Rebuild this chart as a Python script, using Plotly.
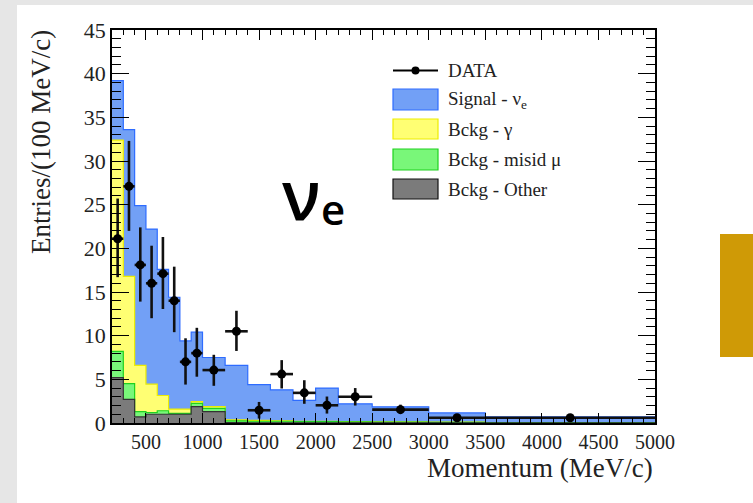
import numpy as np
import plotly.graph_objects as go

# ---------------- data ----------------
edges = [200, 300, 400, 500, 600, 700, 800, 900, 1000, 1200, 1400, 1600,
         1800, 2000, 2200, 2500, 3000, 3500, 5000]
signal = [6.8, 16.8, 18.3, 17.75, 14.45, 12.8, 7.8, 7.96, 5.63, 6.25, 4.1,
          3.55, 2.4, 3.8, 2.05, 1.73, 1.05, 0.65]
gamma = [24.2, 12.3, 5.3, 3.25, 1.75, 0.5, 0.5, 0.19, 0.19, 0.1, 0.1, 0.05,
         0.05, 0.05, 0.03, 0.02, 0.02, 0.01]
misid = [3.0, 1.8, 0.6, 0.2, 0.4, 0.1, 0.1, 0.38, 0.38, 0.2, 0.17, 0.17,
         0.13, 0.13, 0.1, 0.08, 0.07, 0.03]
other = [5.2, 2.7, 0.7, 1.0, 1.0, 1.0, 1.0, 1.87, 1.3, 0.05, 0.03, 0.03,
         0.02, 0.02, 0.02, 0.02, 0.01, 0.01]
data_y = [21.1, 27.1, 18.1, 16.0, 17.1, 14.0, 7.0, 8.0, 6.06, 10.5, 1.46,
          5.6, 3.45, 2.03, 3.0, 1.53, 0.6, 0.6]
data_err_up = [4.6, 5.2, 4.3, 4.3, 4.2, 3.9, 2.7, 2.9, 1.75, 2.35, 0.95,
               1.6, 1.45, 1.0, 1.0, 0.57, 0.3, 0.2]
data_err_dn = [4.4, 5.1, 4.2, 4.0, 4.05, 3.6, 2.6, 2.7, 1.8, 2.25, 0.95,
               1.65, 1.25, 0.95, 1.0, 0.45, 0.3, 0.2]
x_ticks = [500, 1000, 1500, 2000, 2500, 3000, 3500, 4000, 4500, 5000]
y_ticks = [0, 5, 10, 15, 20, 25, 30, 35, 40, 45]

# ---------------- derived ----------------
e = np.array(edges, dtype=float)
centers = (e[:-1] + e[1:]) / 2
halfw = (e[1:] - e[:-1]) / 2
c_other = np.array(other)
c_misid = c_other + np.array(misid)
c_gamma = c_misid + np.array(gamma)
c_total = c_gamma + np.array(signal)

W, H = 753, 503
L, R, T, B = 112, 98, 30, 80
PW, PH = W - L - R, H - T - B


def px(xp):
    return (xp - L) / PW


def py(yp):
    return (H - B - yp) / PH


BLUE_F, BLUE_L = "#72a0f6", "#2e6cff"
YEL_F, YEL_L = "#ffff73", "#eded00"
GRN_F, GRN_L = "#79f779", "#1fd21f"
GRY_F, GRY_L = "#7b7b7b", "#333333"

fig = go.Figure()


def step(vals, fillc, linec):
    fig.add_trace(go.Scatter(
        x=list(e), y=list(vals) + [vals[-1]], mode="lines",
        line=dict(shape="hv", color=linec, width=1.2),
        fill="tozeroy", fillcolor=fillc, showlegend=False, hoverinfo="skip"))


step(c_total, BLUE_F, BLUE_L)
step(c_gamma, YEL_F, YEL_L)
step(c_misid, GRN_F, GRN_L)
step(c_other, GRY_F, GRY_L)

fig.add_trace(go.Scatter(
    x=centers, y=data_y, mode="markers",
    marker=dict(color="black", size=9),
    error_y=dict(type="data", array=data_err_up, arrayminus=data_err_dn,
                 symmetric=False, thickness=2.6, width=0, color="#111"),
    error_x=dict(type="data", array=halfw, thickness=2.6, width=0,
                 color="#111"),
    showlegend=False))

serif = "Liberation Serif"
axis_common = dict(showline=True, linecolor="black", linewidth=1.5,
                   mirror="allticks", ticks="inside", tickcolor="black",
                   tickwidth=1, showgrid=False, zeroline=False)

fig.update_xaxes(range=[200, 5000], tickvals=x_ticks, ticklen=10,
                 tickfont=dict(family=serif, size=20, color="#222"),
                 minor=dict(dtick=100, tick0=0, ticklen=5, ticks="inside",
                            tickcolor="black", tickwidth=1, showgrid=False),
                 **axis_common)
fig.update_yaxes(range=[0, 45], tickvals=y_ticks, ticklen=17,
                 tickfont=dict(family=serif, size=22, color="#222"),
                 minor=dict(dtick=1, tick0=0, ticklen=9, ticks="inside",
                            tickcolor="black", tickwidth=1, showgrid=False),
                 **axis_common)

shapes = []
# slide background panel and golden box
shapes.append(dict(type="rect", xref="paper", yref="paper", layer="below",
                   x0=px(17), x1=px(W + 5), y0=py(5), y1=py(H + 5),
                   fillcolor="white", line=dict(width=0)))
shapes.append(dict(type="rect", xref="paper", yref="paper", layer="above",
                   x0=px(720), x1=px(W + 5), y0=py(234), y1=py(357),
                   fillcolor="#cf9a06", line=dict(width=0)))

# manual legend
lx0, lx1 = 393, 438
shapes.append(dict(type="line", xref="paper", yref="paper",
                   x0=px(lx0), x1=px(lx1), y0=py(70.5), y1=py(70.5),
                   line=dict(color="black", width=2)))
shapes.append(dict(type="circle", xref="paper", yref="paper",
                   x0=px(415.5 - 4), x1=px(415.5 + 4),
                   y0=py(70.5 - 4), y1=py(70.5 + 4),
                   fillcolor="black", line=dict(color="black", width=0)))
boxes = [(89, 110, BLUE_F, BLUE_L), (119, 139, YEL_F, YEL_L),
         (149, 170, GRN_F, GRN_L), (179, 199, GRY_F, "#111111")]
for y0, y1, fc, lc in boxes:
    shapes.append(dict(type="rect", xref="paper", yref="paper",
                       x0=px(lx0), x1=px(lx1), y0=py(y1), y1=py(y0),
                       fillcolor=fc, line=dict(color=lc, width=1.2)))

labels = ["DATA", "Signal - ν<sub>e</sub>", "Bckg - γ", "Bckg - misid μ",
          "Bckg - Other"]
ycent = [70.5, 99.5, 129, 159.5, 189]
ann = []
for t, yc in zip(labels, ycent):
    ann.append(dict(text=t, xref="paper", yref="paper", x=px(446), y=py(yc),
                    xanchor="left", yanchor="middle", showarrow=False,
                    font=dict(family=serif, size=19, color="#222")))

# axis titles
ann.append(dict(text="Momentum (MeV/c)", xref="paper", yref="paper",
                x=1.0, y=py(468), xanchor="right", yanchor="middle",
                showarrow=False, font=dict(family=serif, size=27, color="#222")))
ann.append(dict(text="Entries/(100 MeV/c)", xref="paper", yref="paper",
                x=px(41), y=py(142), xanchor="center", yanchor="middle",
                textangle=-90, showarrow=False,
                font=dict(family=serif, size=27, color="#222")))
# big nu_e label
ann.append(dict(text="ν", xref="paper", yref="paper",
                x=px(280), y=py(194), xanchor="left", yanchor="middle",
                showarrow=False,
                font=dict(family="Open Sans", size=68, color="black",
                          weight=600)))
ann.append(dict(text="e", xref="paper", yref="paper",
                x=px(319), y=py(208), xanchor="left", yanchor="middle",
                showarrow=False,
                font=dict(family="Open Sans", size=42, color="black",
                          weight=600)))

fig.update_layout(width=W, height=H, margin=dict(l=L, r=R, t=T, b=B),
                  paper_bgcolor="#e6e6e6", plot_bgcolor="white",
                  shapes=shapes, annotations=ann, showlegend=False)

fig.write_html("out.html")
